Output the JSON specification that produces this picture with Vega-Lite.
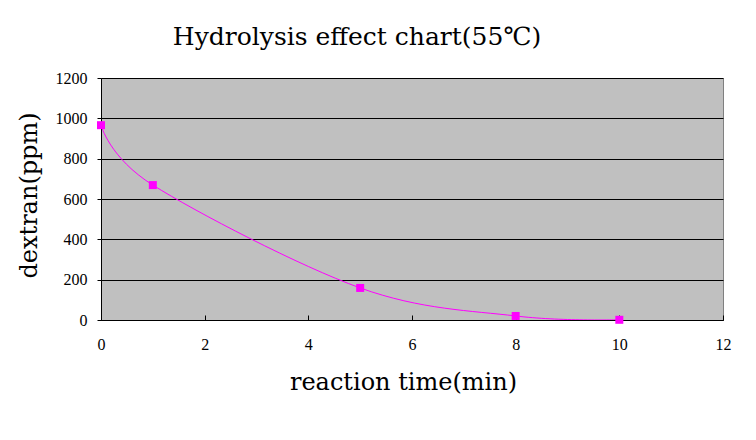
{
  "$schema": "https://vega.github.io/schema/vega-lite/v6.json",
  "width": 622,
  "height": 242,
  "autosize": {"type": "none"},
  "padding": {"left": 101, "top": 78, "right": 33, "bottom": 120},
  "background": "white",
  "config": {
    "view": {"fill": "#C0C0C0", "stroke": "#808080", "strokeWidth": 1},
    "axis": {"labelFont": "Liberation Serif", "titleFont": "DejaVu Serif", "labelColor": "black", "titleColor": "black", "labelFontSize": 16, "titleFontSize": 24, "titleFontWeight": "normal", "domainColor": "black", "tickColor": "black", "gridColor": "black", "gridOpacity": 1, "gridWidth": 1}
  },
  "title": {
    "text": "Hydrolysis effect chart(55℃)",
    "font": "DejaVu Serif",
    "fontSize": 25,
    "fontWeight": "normal",
    "color": "black",
    "anchor": "middle",
    "frame": "group",
    "dx": -55,
    "offset": 20
  },
  "data": {
    "values": [
      {"time": 0, "dextran": 966},
      {"time": 1, "dextran": 669},
      {"time": 5, "dextran": 159},
      {"time": 8, "dextran": 20},
      {"time": 10, "dextran": 1}
    ]
  },
  "layer": [
    {
      "mark": {"type": "line", "interpolate": "cardinal", "tension": 0, "color": "#FF00FF", "strokeWidth": 1, "clip": true},
      "encoding": {
        "x": {"field": "time", "type": "quantitative", "scale": {"domain": [0, 12], "nice": false, "zero": true},
          "axis": {"title": "reaction time(min)", "values": [0, 2, 4, 6, 8, 10, 12], "format": "d", "grid": false, "tickSize": -5, "labelPadding": 21, "labelFlush": false, "titleX": 302, "titleY": 62, "titleBaseline": "middle", "titleAnchor": null, "titleAlign": "center"}},
        "y": {"field": "dextran", "type": "quantitative", "scale": {"domain": [0, 1200], "nice": false},
          "axis": {"title": "dextran(ppm)", "values": [0, 200, 400, 600, 800, 1000, 1200], "format": "d", "grid": true, "tickSize": 4, "labelPadding": 10, "labelFlush": false, "titleX": -72, "titleY": 117, "titleAngle": -90, "titleBaseline": "middle", "titleAlign": "center", "titleAnchor": null}}
      }
    },
    {
      "mark": {"type": "square", "color": "#FF00FF", "filled": true, "opacity": 1, "size": 64},
      "encoding": {
        "x": {"field": "time", "type": "quantitative"},
        "y": {"field": "dextran", "type": "quantitative"}
      }
    }
  ]
}
